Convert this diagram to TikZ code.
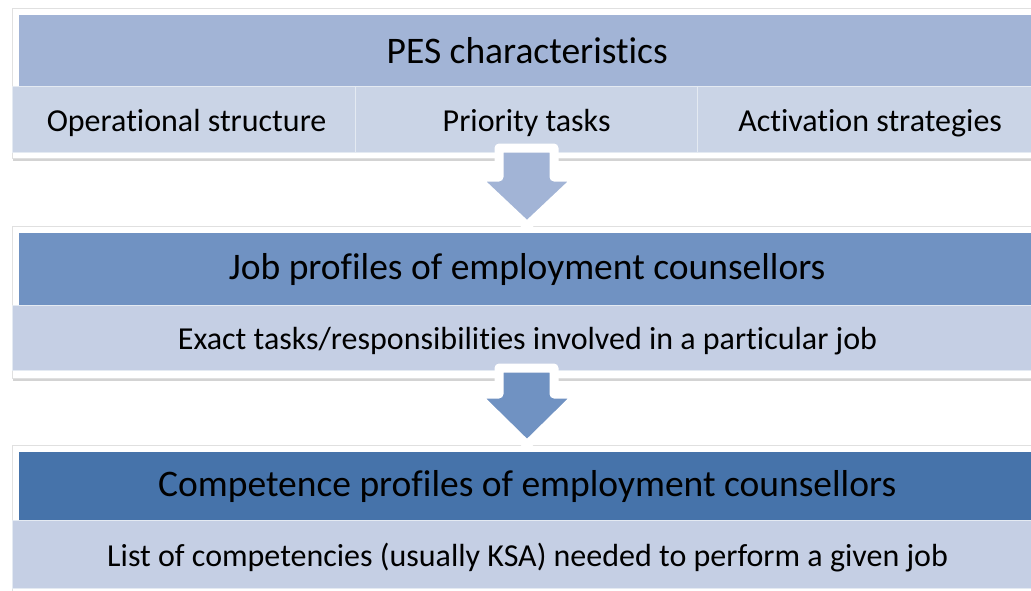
\documentclass[tikz,border=0pt]{standalone}
\usepackage{fontspec}
\setmainfont{Carlito}[RawFeature={-liga;-dlig}]
\usetikzlibrary{shadows}
\definecolor{cA}{HTML}{A2B4D6}
\definecolor{cB}{HTML}{7092C2}
\definecolor{cC}{HTML}{4673AA}
\definecolor{cL}{HTML}{CAD4E6}
\definecolor{cM}{HTML}{C5CFE4}
\tikzset{
  frame/.style={fill=white, draw=black!12, line width=0.6pt,
    drop shadow={opacity=0.35, shadow xshift=0.5pt, shadow yshift=-2.5pt}},
  topband/.style={anchor=north west, inner sep=0pt, minimum width=1016pt,
    font=\fontsize{37.5}{44}\selectfont, text=black},
  lowband/.style={anchor=north west, inner sep=0pt, draw=white!50!cL, line width=1.2pt,
    text height=30pt, text depth=7pt,
    font=\fontsize{32}{38}\selectfont, text=black},
  blockarrow/.style={draw=white, line width=9pt, line join=round,
    drop shadow={opacity=0.3, shadow xshift=0pt, shadow yshift=-2pt}},
}
\begin{document}
\begin{tikzpicture}[x=1pt,y=-1pt]
\useasboundingbox (0,0) rectangle (1031,590);
\clip (0,0) rectangle (1031,590);
% box 1
\path[frame] (12,8) rectangle (1048,158);
\node[topband, fill=cA, minimum height=71pt] (pes) at (19,15) {PES characteristics};
\node[lowband, fill=cL, minimum width=343pt, minimum height=66pt] (ops) at (12,86) {\hspace*{5pt}Operational structure};
\node[lowband, fill=cL, minimum width=342pt, minimum height=66pt] (pri) at (355,86) {Priority tasks};
\node[lowband, fill=cL, minimum width=345pt, minimum height=66pt] (act) at (697,86) {Activation strategies};
% box 2
\path[frame] (12,226) rectangle (1048,378);
\node[topband, fill=cB, minimum height=72pt] (job) at (19,233) {Job profiles of employment counsellors};
\node[lowband, fill=cM, minimum width=1030pt, minimum height=65pt] (exact) at (12,305) {Exact tasks/responsibilities involved in a particular job};
% box 3
\path[frame] (12,445) rectangle (1048,600);
\node[topband, fill=cC, minimum height=68pt] (comp) at (19,452) {Competence profiles of employment counsellors};
\node[lowband, fill=cM, minimum width=1030pt, minimum height=68pt] (list) at (12,520) {List of competencies (usually KSA) needed to perform a given job};
% arrows
\path[blockarrow, fill=cA] (499,148) -- (554,148) -- (554,177) -- (579,177) -- (527,226) -- (475,177) -- (499,177) -- cycle;
\path[blockarrow, fill=cB] (499,368) -- (554,368) -- (554,394) -- (579,394) -- (527,445) -- (475,394) -- (499,394) -- cycle;
\end{tikzpicture}
\end{document}
